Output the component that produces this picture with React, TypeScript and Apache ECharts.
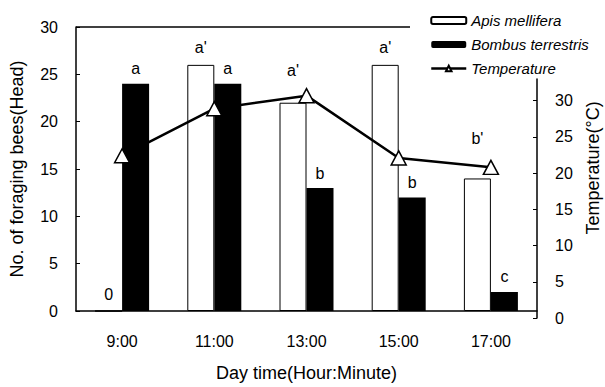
import React, { useEffect, useRef } from "react";
import * as echarts from "echarts";

const categories = ["9:00", "11:00", "13:00", "15:00", "17:00"];
const apisValues = [0, 26, 22, 26, 14];
const bombusValues = [24, 24, 13, 12, 2];
const temperatureValues = [22.4, 28.9, 30.7, 22.1, 20.8];
const apisLetters = ["0", "a'", "a'", "a'", "b'"];
const bombusLetters = ["a", "a", "b", "b", "c"];
const leftTicks = [0, 5, 10, 15, 20, 25, 30];
const rightTicks = [0, 5, 10, 15, 20, 25, 30];

const apisLabelDistance = [8, 9, 24, 9, 32];
const bombusLabelDistance = [7, 7, 6, 7, 8];

const FONT = "'Liberation Sans', Arial, Helvetica, sans-serif";

export default function App() {
  const ref = useRef<HTMLDivElement>(null);
  useEffect(() => {
    if (!ref.current) return;
    const chart = echarts.init(ref.current, null, { renderer: "svg" });
    const axisLineStyle = { color: "#000", width: 1.5 };
    chart.setOption({
      animation: false,
      backgroundColor: "#fff",
      textStyle: { fontFamily: FONT, color: "#000" },
      grid: [
        { left: 76, right: 68, top: 27, bottom: 70 },
        { left: 76, right: 68, top: 79, bottom: 69 },
      ],
      legend: {
        orient: "vertical",
        left: 425,
        top: 8,
        itemWidth: 35,
        itemHeight: 7,
        itemGap: 9,
        textStyle: { fontStyle: "italic", fontSize: 15, color: "#000", fontFamily: FONT },
        data: [
          { name: "Apis mellifera" },
          { name: "Bombus terrestris" },
          { name: "Temperature", lineStyle: { width: 2.5, color: "#000" } },
        ],
      },
      xAxis: [
        {
          type: "category",
          gridIndex: 0,
          data: categories,
          axisLine: { lineStyle: axisLineStyle },
          axisTick: { inside: true, length: 4, lineStyle: { color: "#000" } },
          axisLabel: { fontSize: 16, color: "#000", margin: 22, fontFamily: FONT },
          name: "Day time(Hour:Minute)",
          nameLocation: "middle",
          nameGap: 53,
          nameTextStyle: { fontSize: 18, color: "#000", fontFamily: FONT },
        },
        {
          type: "category",
          gridIndex: 1,
          data: categories,
          show: false,
        },
      ],
      yAxis: [
        {
          type: "value",
          gridIndex: 0,
          min: 0,
          max: 30,
          interval: 5,
          axisLine: { show: true, lineStyle: axisLineStyle },
          axisTick: { show: true, inside: true, length: 4, lineStyle: { color: "#000" }, customValues: leftTicks },
          axisLabel: { fontSize: 16, color: "#000", margin: 18, fontFamily: FONT, customValues: leftTicks },
          splitLine: { show: false },
          name: "No. of foraging bees(Head)",
          nameLocation: "middle",
          nameGap: 50,
          nameTextStyle: { fontSize: 18, color: "#000", fontFamily: FONT },
        },
        {
          type: "value",
          gridIndex: 1,
          position: "right",
          min: 0,
          max: 33,
          interval: 5,
          axisLine: { show: true, lineStyle: axisLineStyle },
          axisTick: { show: true, inside: true, length: 4, lineStyle: { color: "#000" }, customValues: rightTicks },
          axisLabel: { fontSize: 16, color: "#000", margin: 18, fontFamily: FONT, customValues: rightTicks },
          splitLine: { show: false },
        },
      ],
      graphic: [
        {
          type: "line",
          shape: { x1: 76, y1: 27, x2: 410, y2: 27 },
          style: { stroke: "#000", lineWidth: 1.5 },
          silent: true,
        },
        {
          type: "text",
          x: 593,
          y: 168,
          rotation: Math.PI / 2,
          style: {
            text: "Temperature(°C)",
            fontSize: 18,
            fontFamily: FONT,
            fill: "#000",
            align: "center",
            verticalAlign: "middle",
          },
        },
      ],
      series: [
        {
          name: "Apis mellifera",
          type: "bar",
          xAxisIndex: 0,
          yAxisIndex: 0,
          barWidth: 27,
          barGap: "0%",
          itemStyle: { color: "#fff", borderColor: "#000", borderWidth: 1 },
          data: apisValues.map((v, i) => ({
            value: v,
            label: { distance: apisLabelDistance[i] },
          })),
          label: {
            show: true,
            position: "top",
            fontSize: 16,
            color: "#000",
            fontFamily: FONT,
            formatter: (p: any) => apisLetters[p.dataIndex],
          },
        },
        {
          name: "Bombus terrestris",
          type: "bar",
          xAxisIndex: 0,
          yAxisIndex: 0,
          barWidth: 27,
          barGap: "0%",
          itemStyle: { color: "#000" },
          data: bombusValues.map((v, i) => ({
            value: v,
            label: { distance: bombusLabelDistance[i] },
          })),
          label: {
            show: true,
            position: "top",
            fontSize: 16,
            color: "#000",
            fontFamily: FONT,
            formatter: (p: any) => bombusLetters[p.dataIndex],
          },
        },
        {
          name: "Temperature",
          type: "line",
          xAxisIndex: 1,
          yAxisIndex: 1,
          data: temperatureValues,
          symbol: "triangle",
          symbolSize: [15, 14],
          lineStyle: { color: "#000", width: 2.5 },
          itemStyle: { color: "#fff", borderColor: "#000", borderWidth: 1.5 },
          z: 5,
        },
      ],
    });
    return () => chart.dispose();
  }, []);
  return (
    <div
      ref={ref}
      style={{ position: "fixed", left: 0, top: 0, width: 605, height: 387, background: "#fff" }}
    />
  );
}
